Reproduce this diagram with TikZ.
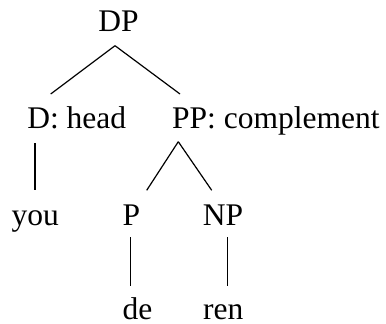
\documentclass[tikz,border=0pt]{standalone}
\usepackage{fontspec}
\setmainfont{Liberation Serif}
\begin{document}
\begin{tikzpicture}[x=1pt,y=-1pt,
  lbl/.style={anchor=base,inner sep=0pt,font=\fontsize{31.5}{38}\selectfont},
  edge/.style={line width=1.2pt,black}]
\useasboundingbox (0,0) rectangle (386,324);
% tree labels, placed by their baselines
\node[lbl] (DP) at (118.5,31) {DP};
\node[lbl] (D) at (76.7,128.3) {D: head};
\node[lbl] (PP) at (275.8,128.3) {PP: complement};
\node[lbl] (you) at (35.3,225) {you};
\node[lbl] (P) at (131.5,225) {P};
\node[lbl] (NP) at (223,225) {NP};
\node[lbl] (de) at (137.5,319) {de};
\node[lbl] (ren) at (223.3,319) {ren};
% branches
\draw[edge] ([shift={(-3.5,14.7)}]DP.base) -- ([shift={(-26,-34.3)}]D.base);
\draw[edge] ([shift={(-3.5,14.7)}]DP.base) -- ([shift={(-95.8,-34.3)}]PP.base);
\draw[edge] ([shift={(-41.7,14.7)}]D.base) -- ([shift={(-0.3,-35)}]you.base);
\draw[edge] ([shift={(-97.5,13.4)}]PP.base) -- ([shift={(15.2,-34.7)}]P.base);
\draw[edge] ([shift={(-97.5,13.4)}]PP.base) -- ([shift={(-11.3,-34.7)}]NP.base);
\draw[edge] ([shift={(-0.8,12)}]P.base) -- ([shift={(-6.8,-33)}]de.base);
\draw[edge] ([shift={(4.3,12)}]NP.base) -- ([shift={(4,-33)}]ren.base);
\end{tikzpicture}
\end{document}
